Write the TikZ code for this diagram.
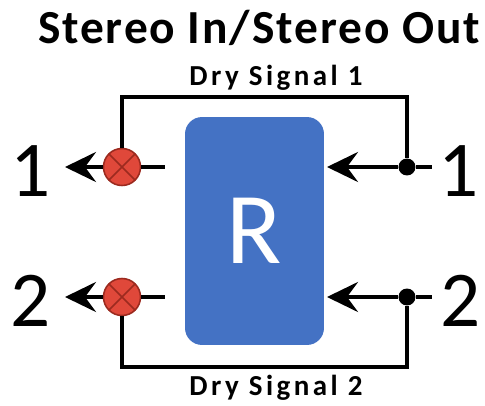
\documentclass[tikz,border=0pt]{standalone}
\usepackage{fontspec}
\setmainfont{Carlito}
\newfontfamily\titlefont[LetterSpace=4]{Carlito}
\newfontfamily\dryfont[LetterSpace=12]{Carlito}
\usetikzlibrary{arrows.meta, positioning}
\definecolor{boxblue}{HTML}{4472C4}
\definecolor{sumred}{HTML}{E0483A}
\definecolor{sumedge}{HTML}{9C2A1F}
\begin{document}
\begin{tikzpicture}[x=0.02cm, y=-0.02cm]

\tikzset{wire/.style = {line width=0.08cm}}
\tikzset{sig/.style = {wire, -{Stealth[length=0.62cm, width=0.6cm, inset=0.22cm]}}}
\tikzset{summer/.style = {shape=circle, draw=sumedge, line width=0.9pt, fill=sumred, minimum size=0.74cm, inner sep=0pt,
  path picture={\draw[sumedge, line width=0.9pt] (path picture bounding box.north west) -- (path picture bounding box.south east)
    (path picture bounding box.north east) -- (path picture bounding box.south west);}}}
\tikzset{tap/.style = {shape=circle, fill=black, minimum size=0.34cm, inner sep=0pt}}
\tikzset{port/.style = {font=\fontsize{45}{45}\selectfont, inner sep=0pt}}

\useasboundingbox (0,0) rectangle (485,406);

% labels
\node[font=\titlefont\fontsize{27}{27}\bfseries] (title) at (259,28) {Stereo In/Stereo Out};
\node[font=\dryfont\fontsize{16.5}{16.5}\bfseries] (dry1) at (276,78) {Dry Signal 1};
\node[font=\dryfont\fontsize{16.5}{16.5}\bfseries] (dry2) at (276,388) {Dry Signal 2};
% reverb block
\node[fill=boxblue, rounded corners=0.34cm, minimum width=2.78cm, minimum height=4.56cm, text=white,
  font=\fontsize{58}{58}\selectfont] (R) at (254.5,231) {R};
% vertices
\node[summer] (s1) at (122,167) {};
\node[summer] (s2) at (122,297) {};
\node[tap] (t1) at (407,167) {};
\node[tap] (t2) at (407,297) {};
\coordinate (in1) at (432,167);
\coordinate (in2) at (432,297);
\coordinate (out1) at (65,167);
\coordinate (out2) at (65,297);
\coordinate (rin1) at (327,167);
\coordinate (rin2) at (327,297);
\coordinate (rout1) at (165,167);
\coordinate (rout2) at (165,297);
\node[port] (inL1) at (459,171) {1};
\node[port] (inL2) at (461,301) {2};
\node[port] (outL1) at (31,171) {1};
\node[port] (outL2) at (31,301) {2};
%edges
\draw[wire] (in1) -- (t1);
\draw[wire] (in2) -- (t2);
\draw[sig] (t1) -- (rin1);
\draw[sig] (t2) -- (rin2);
\draw[wire] (rout1) -- (s1);
\draw[wire] (rout2) -- (s2);
\draw[sig] (s1) -- (out1);
\draw[sig] (s2) -- (out2);
\draw[wire] (t1) -- ++(0,-70) -| (s1);
\draw[wire] (t2) -- ++(0,70) -| (s2);
\end{tikzpicture}
\end{document}
